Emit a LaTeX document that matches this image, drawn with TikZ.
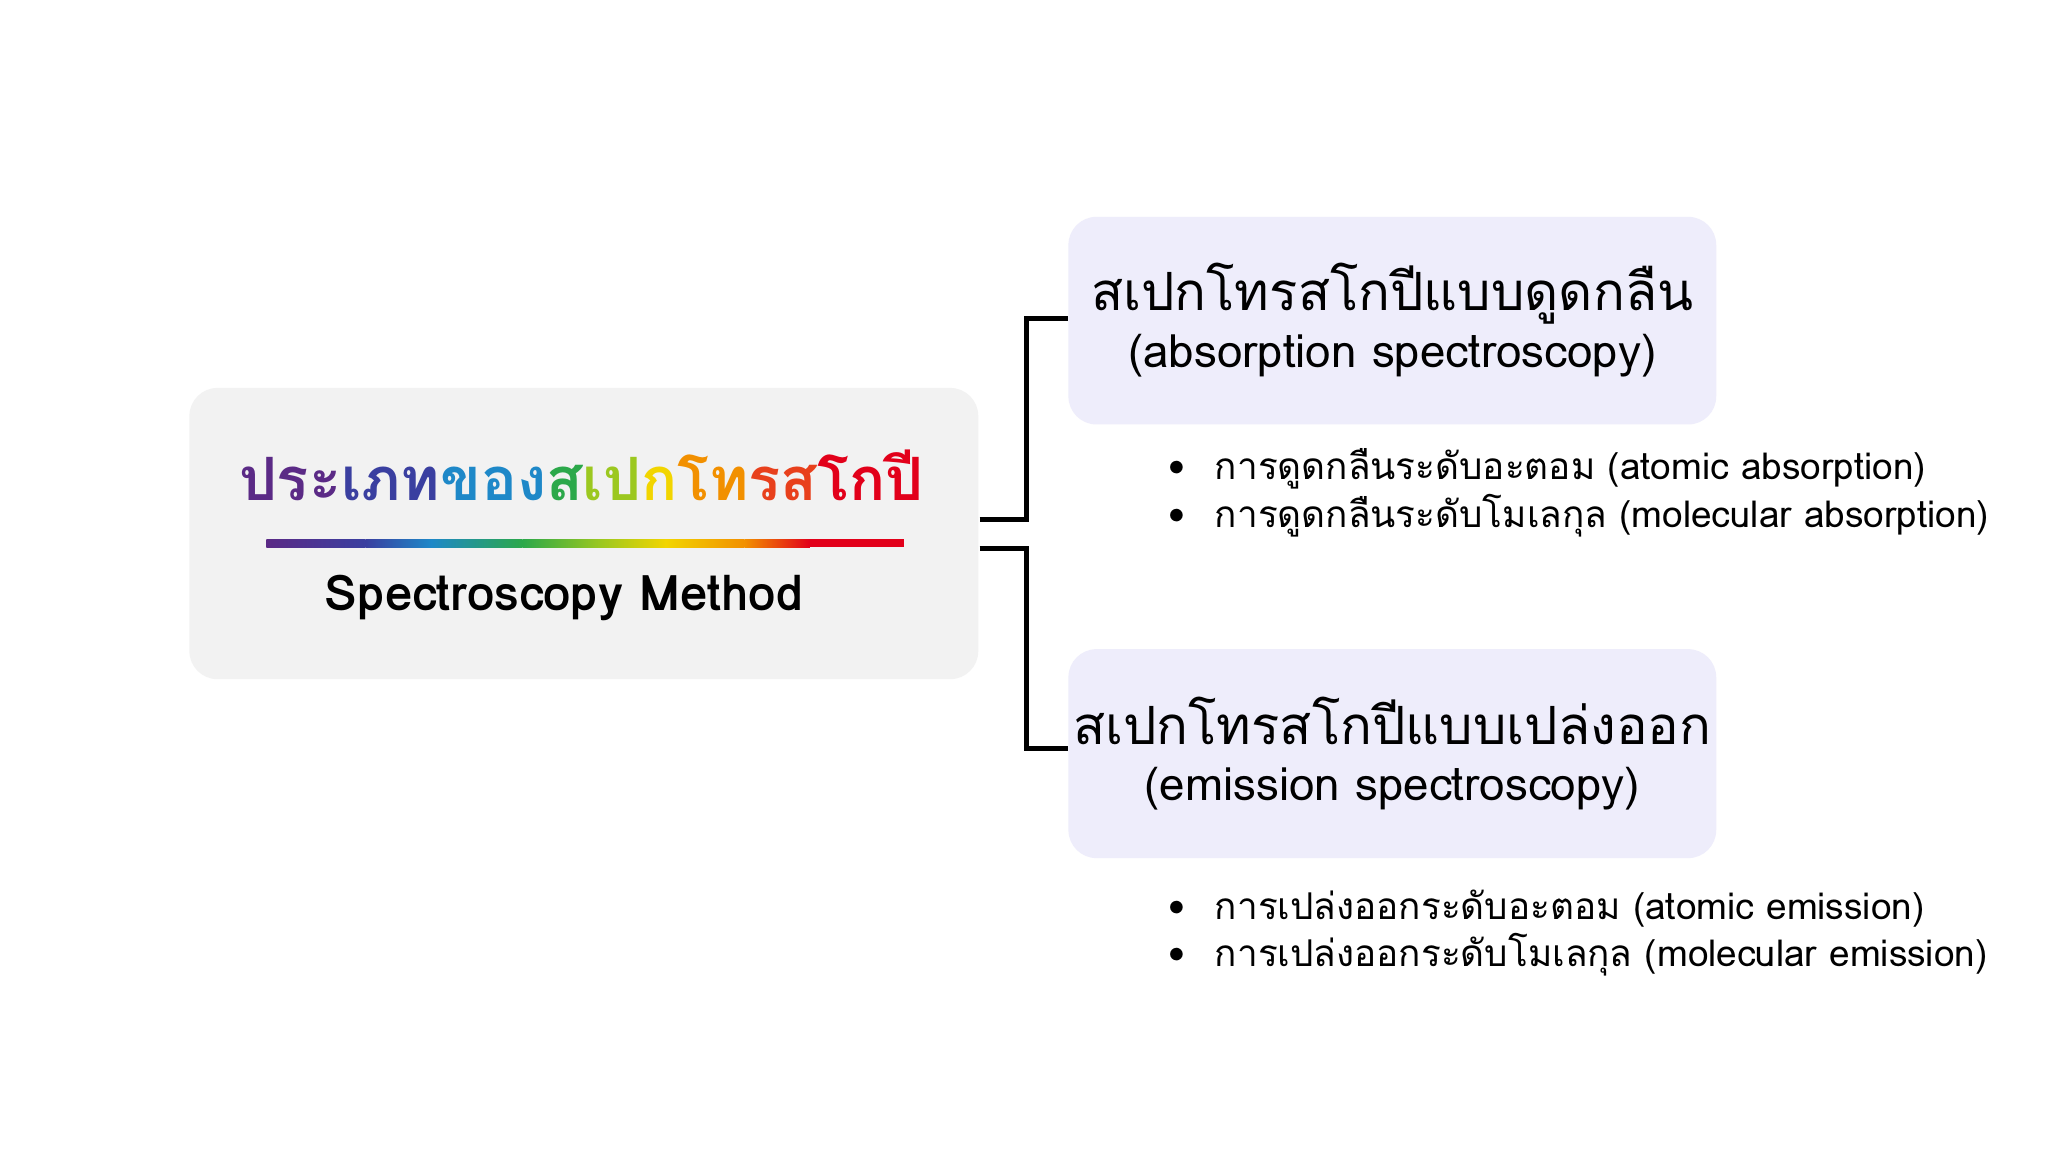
\documentclass[tikz,border=0pt]{standalone}
\usepackage{fontspec}
\setmainfont[Script=Thai]{Loma}
\definecolor{c1}{HTML}{5B2A86}
\definecolor{c2}{HTML}{3A3FA0}
\definecolor{c3}{HTML}{1E88C8}
\definecolor{c4}{HTML}{2BA84A}
\definecolor{c5}{HTML}{9CC820}
\definecolor{c6}{HTML}{F2D500}
\definecolor{c7}{HTML}{F29000}
\definecolor{c8}{HTML}{E8401C}
\definecolor{c9}{HTML}{E2001A}
\definecolor{leftbg}{HTML}{F2F2F2}
\definecolor{rightbg}{HTML}{EEEDFB}
\begin{document}
\begin{tikzpicture}[x=0.013061cm,y=-0.013061cm,
  panel/.style={rounded corners=8pt},
  conn/.style={line width=1.4pt,black},
  head/.style={font=\fontsize{15}{18}\selectfont,align=center},
  bul/.style={font=\fontsize{10.5}{13}\selectfont,anchor=west}]
\useasboundingbox (0,0) rectangle (1568,882);
\fill[white] (0,0) rectangle (1568,882);
\fill[leftbg,panel] (145,297) rectangle (749,520);
\fill[rightbg,panel] (818,166) rectangle (1314,325);
\fill[rightbg,panel] (818,497) rectangle (1314,657);
\node (title) at (445,364) {\fontsize{17}{20}\selectfont\bfseries
 \textcolor{c1}{ประ}\textcolor{c2}{เภท}\textcolor{c3}{ของ}\textcolor{c4}{ส}\textcolor{c5}{เป}\textcolor{c6}{ก}\textcolor{c7}{โท}\textcolor{c8}{รส}\textcolor{c9}{โกปี}};
% rainbow bar
\shade[left color=c1,right color=c2] (204,413) rectangle (280,419);
\shade[left color=c2,right color=c3] (280,413) rectangle (330,419);
\shade[left color=c3,right color=c4] (330,413) rectangle (400,419);
\shade[left color=c4,right color=c5] (400,413) rectangle (460,419);
\shade[left color=c5,right color=c6] (460,413) rectangle (510,419);
\shade[left color=c6,right color=c7] (510,413) rectangle (570,419);
\shade[left color=c7,right color=c9] (570,413) rectangle (620,419);
\fill[c9] (620,413) rectangle (692,419);
\node (sub) at (432,458) {\fontsize{14}{17}\selectfont\bfseries Spectroscopy Method};
\node[head] (abs) at (1066,245) {สเปกโทรสโกปีแบบดูดกลืน\\[-2pt]\fontsize{13}{16}\selectfont(absorption spectroscopy)};
\node[head] (emi) at (1066,577) {สเปกโทรสโกปีแบบเปล่งออก\\[-2pt]\fontsize{13}{16}\selectfont(emission spectroscopy)};
\coordinate (l1) at (750,398);
\coordinate (l2) at (750,420);
\coordinate (r1) at (818,244);
\coordinate (r2) at (818,573);
\draw[conn] (l1) -| (786,244) -- (r1);
\draw[conn] (l2) -| (786,573) -- (r2);
\node[bul] (b1) at (885,359) {•\hspace{0.8em}การดูดกลืนระดับอะตอม (atomic absorption)};
\node[bul] (b2) at (885,395) {•\hspace{0.8em}การดูดกลืนระดับโมเลกุล (molecular absorption)};
\node[bul] (b3) at (885,696) {•\hspace{0.8em}การเปล่งออกระดับอะตอม (atomic emission)};
\node[bul] (b4) at (885,731) {•\hspace{0.8em}การเปล่งออกระดับโมเลกุล (molecular emission)};
\end{tikzpicture}
\end{document}
